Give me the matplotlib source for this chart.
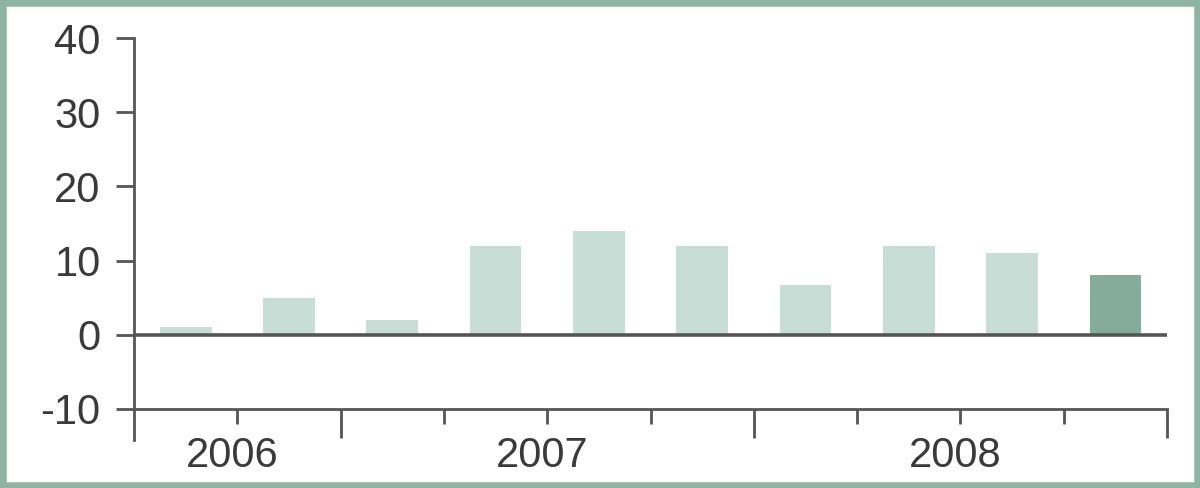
import matplotlib.pyplot as plt
from matplotlib.patches import Rectangle
from matplotlib.ticker import FixedLocator

plt.rcParams['font.family'] = ['Liberation Sans', 'DejaVu Sans']

# quarterly values, Q3 2006 .. Q4 2008
values = [1, 5, 2, 12, 14, 12, 6.7, 12, 11, 8]
years = ['2006', '2007', '2008']
quarters_per_year = [2, 4, 4]
yticks = [-10, 0, 10, 20, 30, 40]
ytick_labels = ['-10', '0', '10', '20', '30', '40']

light = '#c8ddd5'
dark = '#84ab9b'
axis_col = '#555555'
text_col = '#3a3a3a'

fig = plt.figure(figsize=(12, 4.88), dpi=100)
ax = fig.add_axes([0.1117, 0.0984, 0.8608, 0.8237])

x = list(range(len(values)))
colors = [light] * (len(values) - 1) + [dark]
ax.bar(x, values, width=0.5, color=colors, zorder=2)

ax.axhline(0, color=axis_col, lw=2.6, zorder=3)

ax.set_xlim(-0.5, len(values) - 0.5)
ax.set_ylim(-14.2, 40)

for s in ['top', 'right']:
    ax.spines[s].set_visible(False)
ax.spines['bottom'].set_position(('data', -10))
ax.spines['bottom'].set_bounds(-0.5, len(values) - 0.5)
for s in ['left', 'bottom']:
    ax.spines[s].set_color(axis_col)
    ax.spines[s].set_linewidth(2)

ax.set_yticks(yticks)
ax.set_yticklabels(ytick_labels)
ax.tick_params(axis='y', length=13, width=2, color=axis_col, pad=11,
               labelsize=30, labelcolor=text_col)

# year boundaries (long ticks) and quarter boundaries (short ticks)
bounds = []
acc = -0.5
for n in quarters_per_year:
    acc += n
    bounds.append(acc)
quarter_bounds = [b + 0.5 for b in x[:-1] if b + 0.5 not in bounds]
ax.xaxis.set_major_locator(FixedLocator(bounds))
ax.xaxis.set_minor_locator(FixedLocator(quarter_bounds))
ax.set_xticklabels([''] * len(bounds))
ax.tick_params(axis='x', which='major', length=21, width=2, color=axis_col)
ax.tick_params(axis='x', which='minor', length=11, width=2, color=axis_col)

start = -0.5
for yr, n in zip(years, quarters_per_year):
    ax.text(start + n / 2 - 0.05, -13.6, yr, ha='center', va='top',
            fontsize=30, color=text_col)
    start += n

fig.add_artist(Rectangle((0, 0), 1, 1, transform=fig.transFigure,
                         fill=False, edgecolor='#8fb3a4', lw=9))

fig.savefig('out.png', dpi=100)
